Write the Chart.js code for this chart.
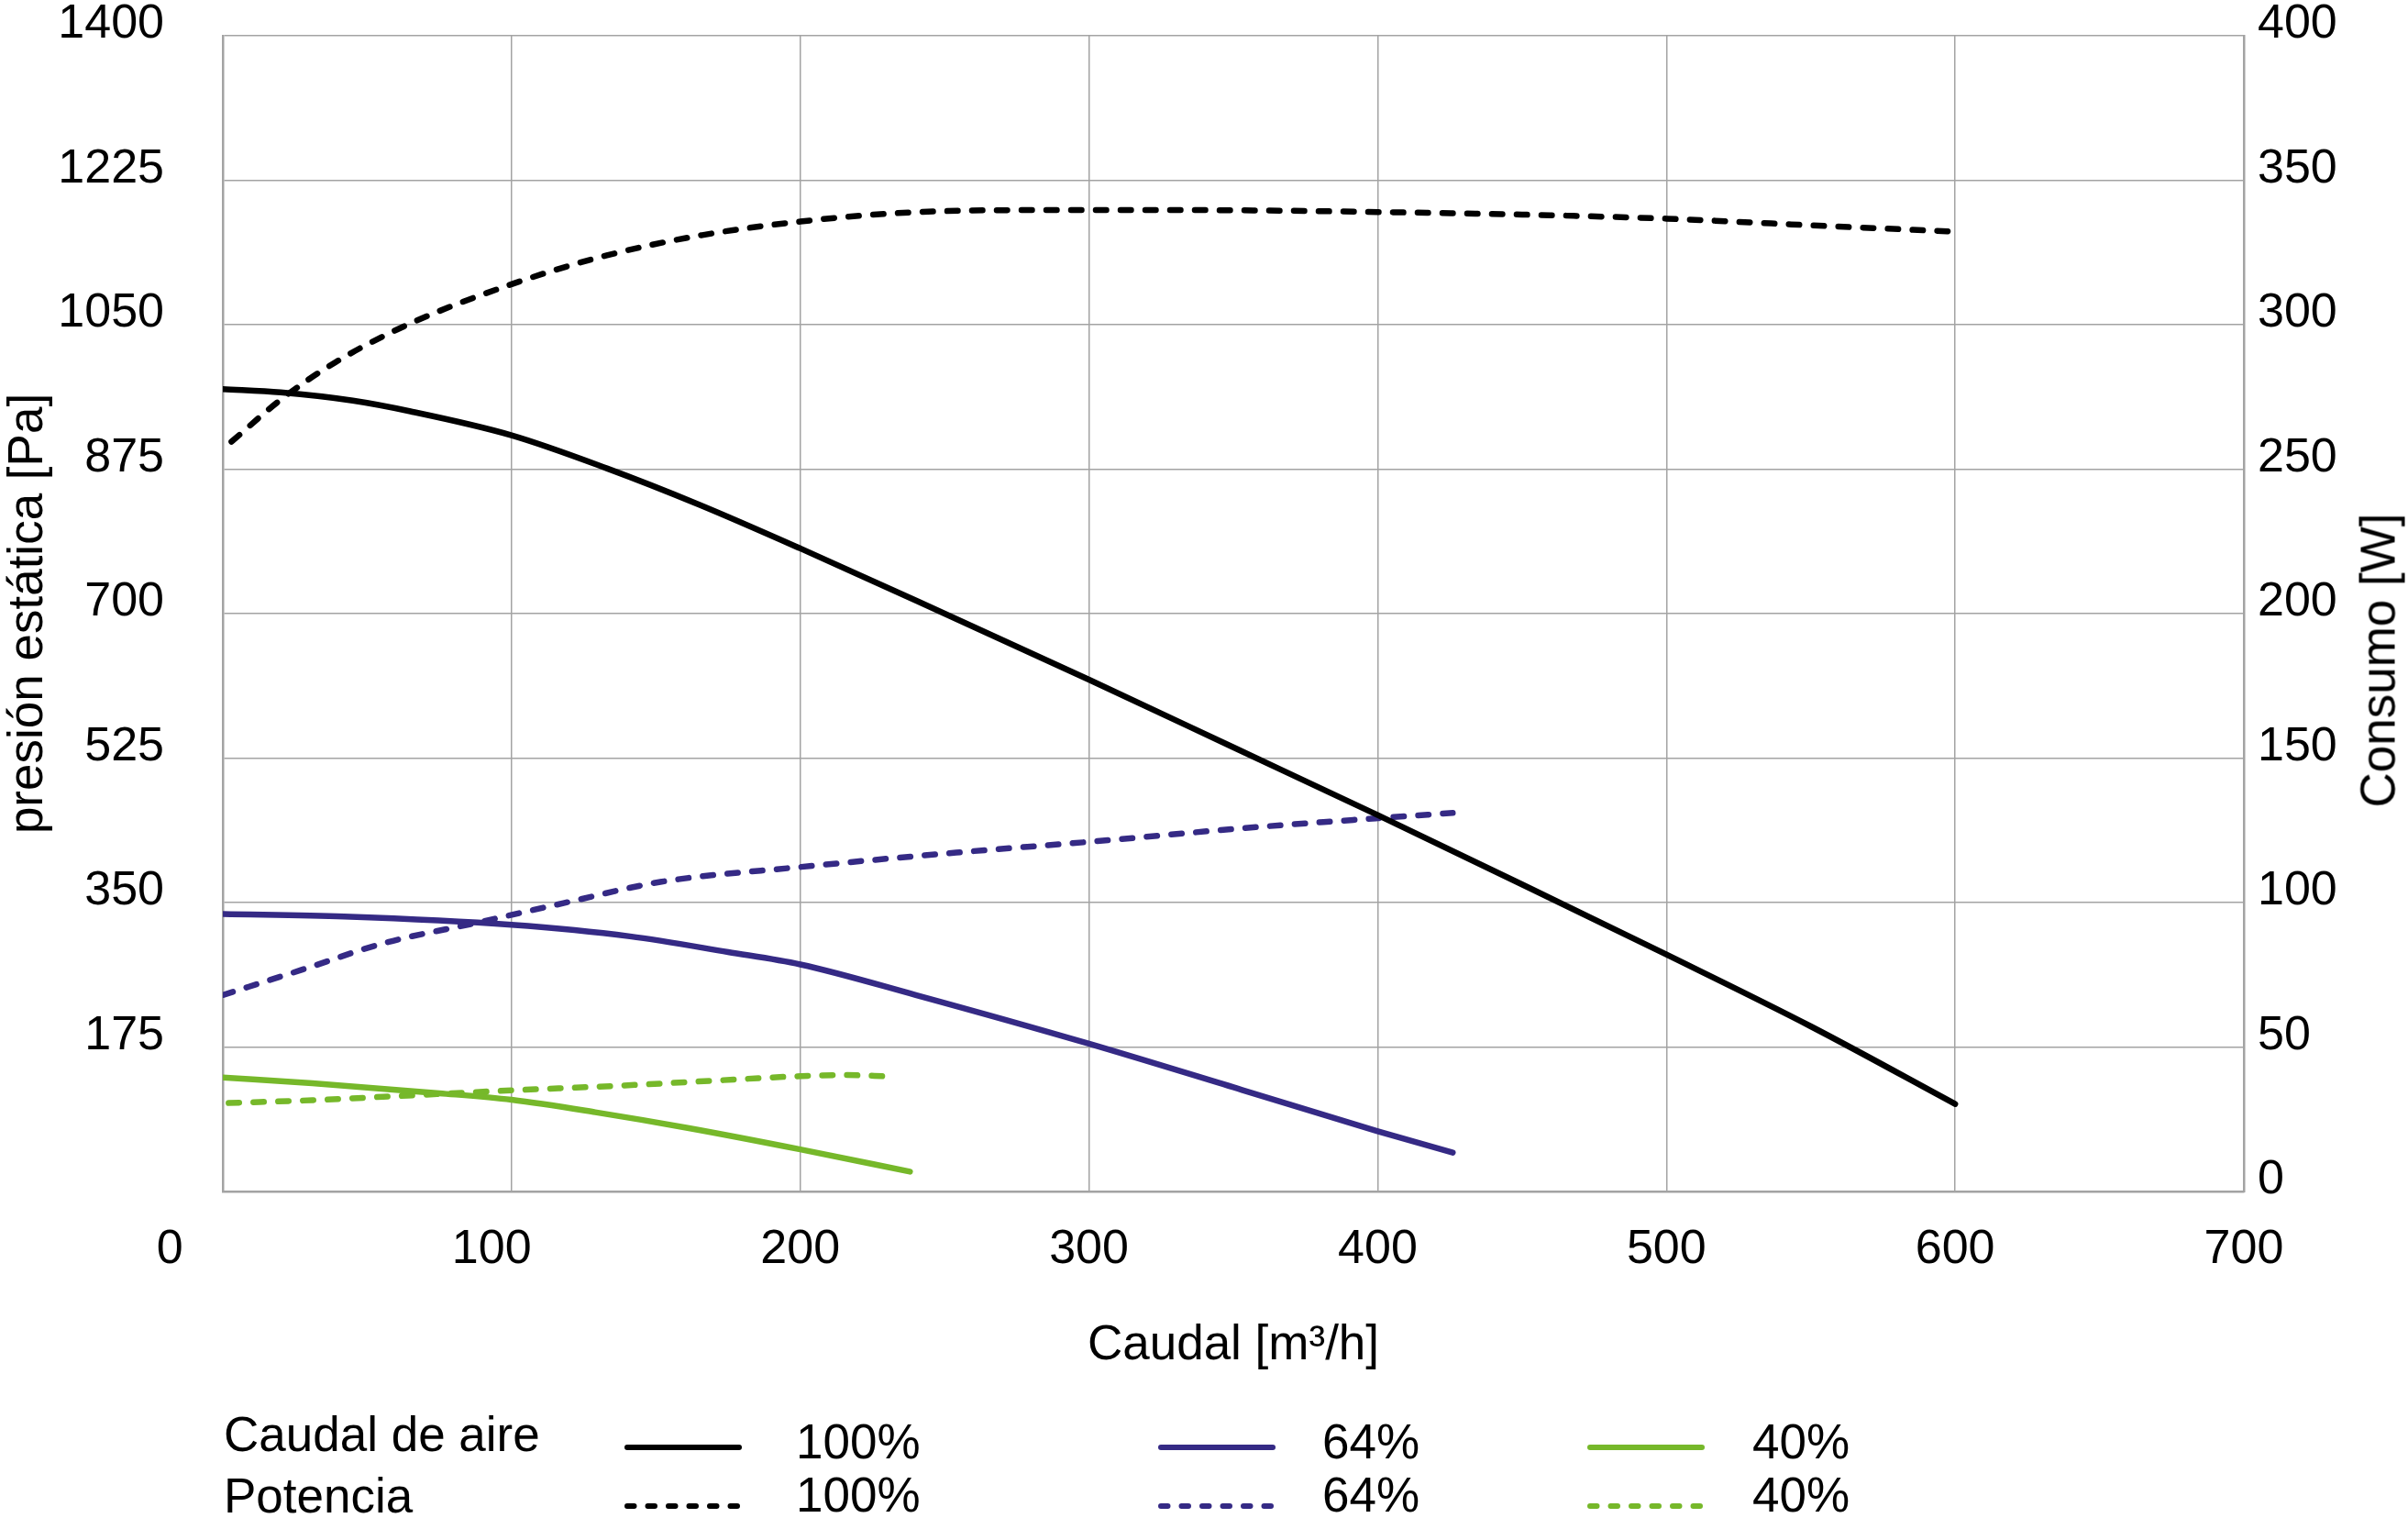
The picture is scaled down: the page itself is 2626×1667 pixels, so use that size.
<!DOCTYPE html>
<html>
<head>
<meta charset="utf-8">
<script src="https://cdn.jsdelivr.net/npm/chart.js@4.4.1/dist/chart.umd.min.js"></script>
<style>
  html, body { margin: 0; padding: 0; background: #fff; }
  #wrap { position: relative; width: 2626px; height: 1667px; font-family: "Liberation Sans", Arial, sans-serif; color: #000; }
  #curveChart { position: absolute; left: 0; top: 0; }
  .txt { position: absolute; font-size: 53px; line-height: 53px; white-space: nowrap; }
  #rightTitle { left: 2593px; top: 720px; transform: translate(-50%, -50%) rotate(-90deg); }
  .sample { position: absolute; overflow: visible; }
</style>
</head>
<body>
<div id="wrap">
  <canvas id="curveChart" width="2626" height="1667"></canvas>
  <div class="txt" id="rightTitle">Consumo [W]</div>
</div>
<script>
// tick values
const caudalTicks = [0, 100, 200, 300, 400, 500, 600, 700];
const presionTicks = [0, 175, 350, 525, 700, 875, 1050, 1225, 1400];
const consumoTicks = [0, 50, 100, 150, 200, 250, 300, 350, 400];

// presion estatica [Pa] vs caudal [m3/h]
const caudalP100 = [0, 20, 45, 65, 100, 133, 165, 200, 250, 300, 350, 400, 450, 500, 550, 600];
const presion100 = [972, 968, 958, 945, 916, 876, 832, 779, 700, 620, 538, 456, 372, 287, 200, 106];
const caudalP64 = [0, 42, 100, 141, 175, 200, 240, 300, 353, 400, 426];
const presion64 = [336, 333, 323, 309, 290, 275, 238, 179, 123, 73, 47];
const caudalP40 = [0, 31, 75, 100, 129, 161, 200, 238];
const presion40 = [138, 131, 119, 111, 96, 77, 51, 24];

// consumo [W] vs caudal [m3/h]
const caudalW100 = [3, 20, 39, 64, 100, 133, 166, 200, 233, 266, 300, 350, 400, 450, 500, 550, 600];
const consumo100 = [259.5, 274, 287, 300, 314, 324, 331, 335.7, 338.6, 339.6, 339.7, 339.6, 339, 338.1, 336.7, 334.4, 332.2];
const caudalW64 = [0, 27, 56, 88, 118, 152, 200, 254, 300, 353, 400, 426];
const consumo64 = [68, 76.6, 86, 93, 99.8, 107.2, 112.3, 117.3, 121, 125.7, 129.2, 131];
const caudalW40 = [2, 31, 64, 100, 137, 169, 200, 215, 231];
const consumo40 = [30.6, 31.6, 33.2, 35, 36.6, 38.3, 39.9, 40.3, 39.8];

const legendRows = ['Caudal de aire', 'Potencia'];
const legendLevels = ['100%', '64%', '40%'];
const levelColors = ['#000000', '#352a85', '#76b82a'];

const gridColor = '#a3a3a3';
const dash = [11.5, 15.5];
// the original nudges the first two x labels to the left
const xLabelNudge = { 0: 8, 100: 3 };

Chart.defaults.font.family = '"Liberation Sans", Arial, sans-serif';
Chart.defaults.color = '#000';

function pts(xs, ys) {
    return xs.map((x, i) => ({ x: x, y: ys[i] }));
}

function curve(xs, ys, color, axis, dashed) {
    return {
        data: pts(xs, ys),
        borderColor: color,
        backgroundColor: color,
        borderDash: dashed ? dash : [],
        yAxisID: axis,
        fill: false
    };
}

// keep tick label overhang from pushing the plot area down
function noPad(s) {
    s.paddingTop = 0;
    s.paddingBottom = 0;
}

const ctx = document.getElementById('curveChart').getContext('2d');
new Chart(ctx, {
    type: 'line',
    data: {
        datasets: [
            curve(caudalP100, presion100, levelColors[0], 'y', false),
            curve(caudalW100, consumo100, levelColors[0], 'y1', true),
            curve(caudalP64, presion64, levelColors[1], 'y', false),
            curve(caudalW64, consumo64, levelColors[1], 'y1', true),
            curve(caudalP40, presion40, levelColors[2], 'y', false),
            curve(caudalW40, consumo40, levelColors[2], 'y1', true)
        ]
    },
    options: {
        responsive: false,
        animation: false,
        layout: { padding: { left: 0, right: 0, top: 39, bottom: 168 } },
        plugins: { legend: { display: false }, tooltip: { enabled: false } },
        elements: {
            point: { radius: 0 },
            line: { borderWidth: 6.5, borderCapStyle: 'round', borderJoinStyle: 'round', cubicInterpolationMode: 'monotone' }
        },
        scales: {
            x: {
                type: 'linear',
                min: 0,
                max: 700,
                afterBuildTicks: s => { s.ticks = caudalTicks.map(v => ({ value: v })); },
                afterFit: s => { s.height = 200; },
                grid: { color: gridColor, lineWidth: 1.5, drawTicks: false },
                border: { color: gridColor, width: 2.5 },
                ticks: {
                    padding: 32,
                    maxRotation: 0,
                    font: { size: 52 },
                    callback: v => String(v) + ' '.repeat(xLabelNudge[v] || 0)
                },
                title: { display: true, text: 'Caudal [m³/h]', font: { size: 53 }, padding: 0 }
            },
            y: {
                position: 'left',
                min: 0,
                max: 1400,
                afterBuildTicks: s => { s.ticks = presionTicks.map(v => ({ value: v })); },
                afterFit: s => { s.width = 243; noPad(s); },
                grid: { color: gridColor, lineWidth: 1.5, drawTicks: false },
                border: { color: gridColor, width: 2.5 },
                ticks: {
                    padding: 64,
                    labelOffset: -12,
                    font: { size: 52 },
                    callback: v => (v === 0 ? '' : v)
                },
                title: { display: true, text: 'presión estática [Pa]', font: { size: 53 }, padding: 0 }
            },
            y1: {
                position: 'right',
                min: 0,
                max: 400,
                afterBuildTicks: s => { s.ticks = consumoTicks.map(v => ({ value: v })); },
                afterFit: s => { s.width = 179; noPad(s); },
                grid: { drawOnChartArea: false, drawTicks: false },
                border: { color: gridColor, width: 2.5 },
                ticks: { padding: 15, labelOffset: -12, font: { size: 52 } }
            }
        }
    }
});

// legend below the chart
const wrap = document.getElementById('wrap');
const rowLabelTop = [1537, 1604];
const rowTextTop = [1545, 1603];
const rowLineY = [1578, 1642];
const sampleX = [681, 1263, 1731];
const levelTextX = [868, 1442, 1911];

legendRows.forEach((row, r) => {
    const lab = document.createElement('div');
    lab.className = 'txt';
    lab.style.left = '244px';
    lab.style.top = rowLabelTop[r] + 'px';
    lab.textContent = row;
    wrap.appendChild(lab);

    legendLevels.forEach((lvl, i) => {
        const svg = document.createElementNS('http://www.w3.org/2000/svg', 'svg');
        svg.setAttribute('class', 'sample');
        svg.setAttribute('width', '140');
        svg.setAttribute('height', '14');
        svg.style.left = sampleX[i] + 'px';
        svg.style.top = (rowLineY[r] - 7) + 'px';
        const ln = document.createElementNS('http://www.w3.org/2000/svg', 'line');
        ln.setAttribute('x1', '3');
        ln.setAttribute('x2', '125');
        ln.setAttribute('y1', '7');
        ln.setAttribute('y2', '7');
        ln.setAttribute('stroke', levelColors[i]);
        ln.setAttribute('stroke-width', '6');
        ln.setAttribute('stroke-linecap', 'round');
        if (r === 1) ln.setAttribute('stroke-dasharray', '7.5 15');
        svg.appendChild(ln);
        wrap.appendChild(svg);

        const t = document.createElement('div');
        t.className = 'txt';
        t.style.left = levelTextX[i] + 'px';
        t.style.top = rowTextTop[r] + 'px';
        t.textContent = lvl;
        wrap.appendChild(t);
    });
});
</script>
</body>
</html>
